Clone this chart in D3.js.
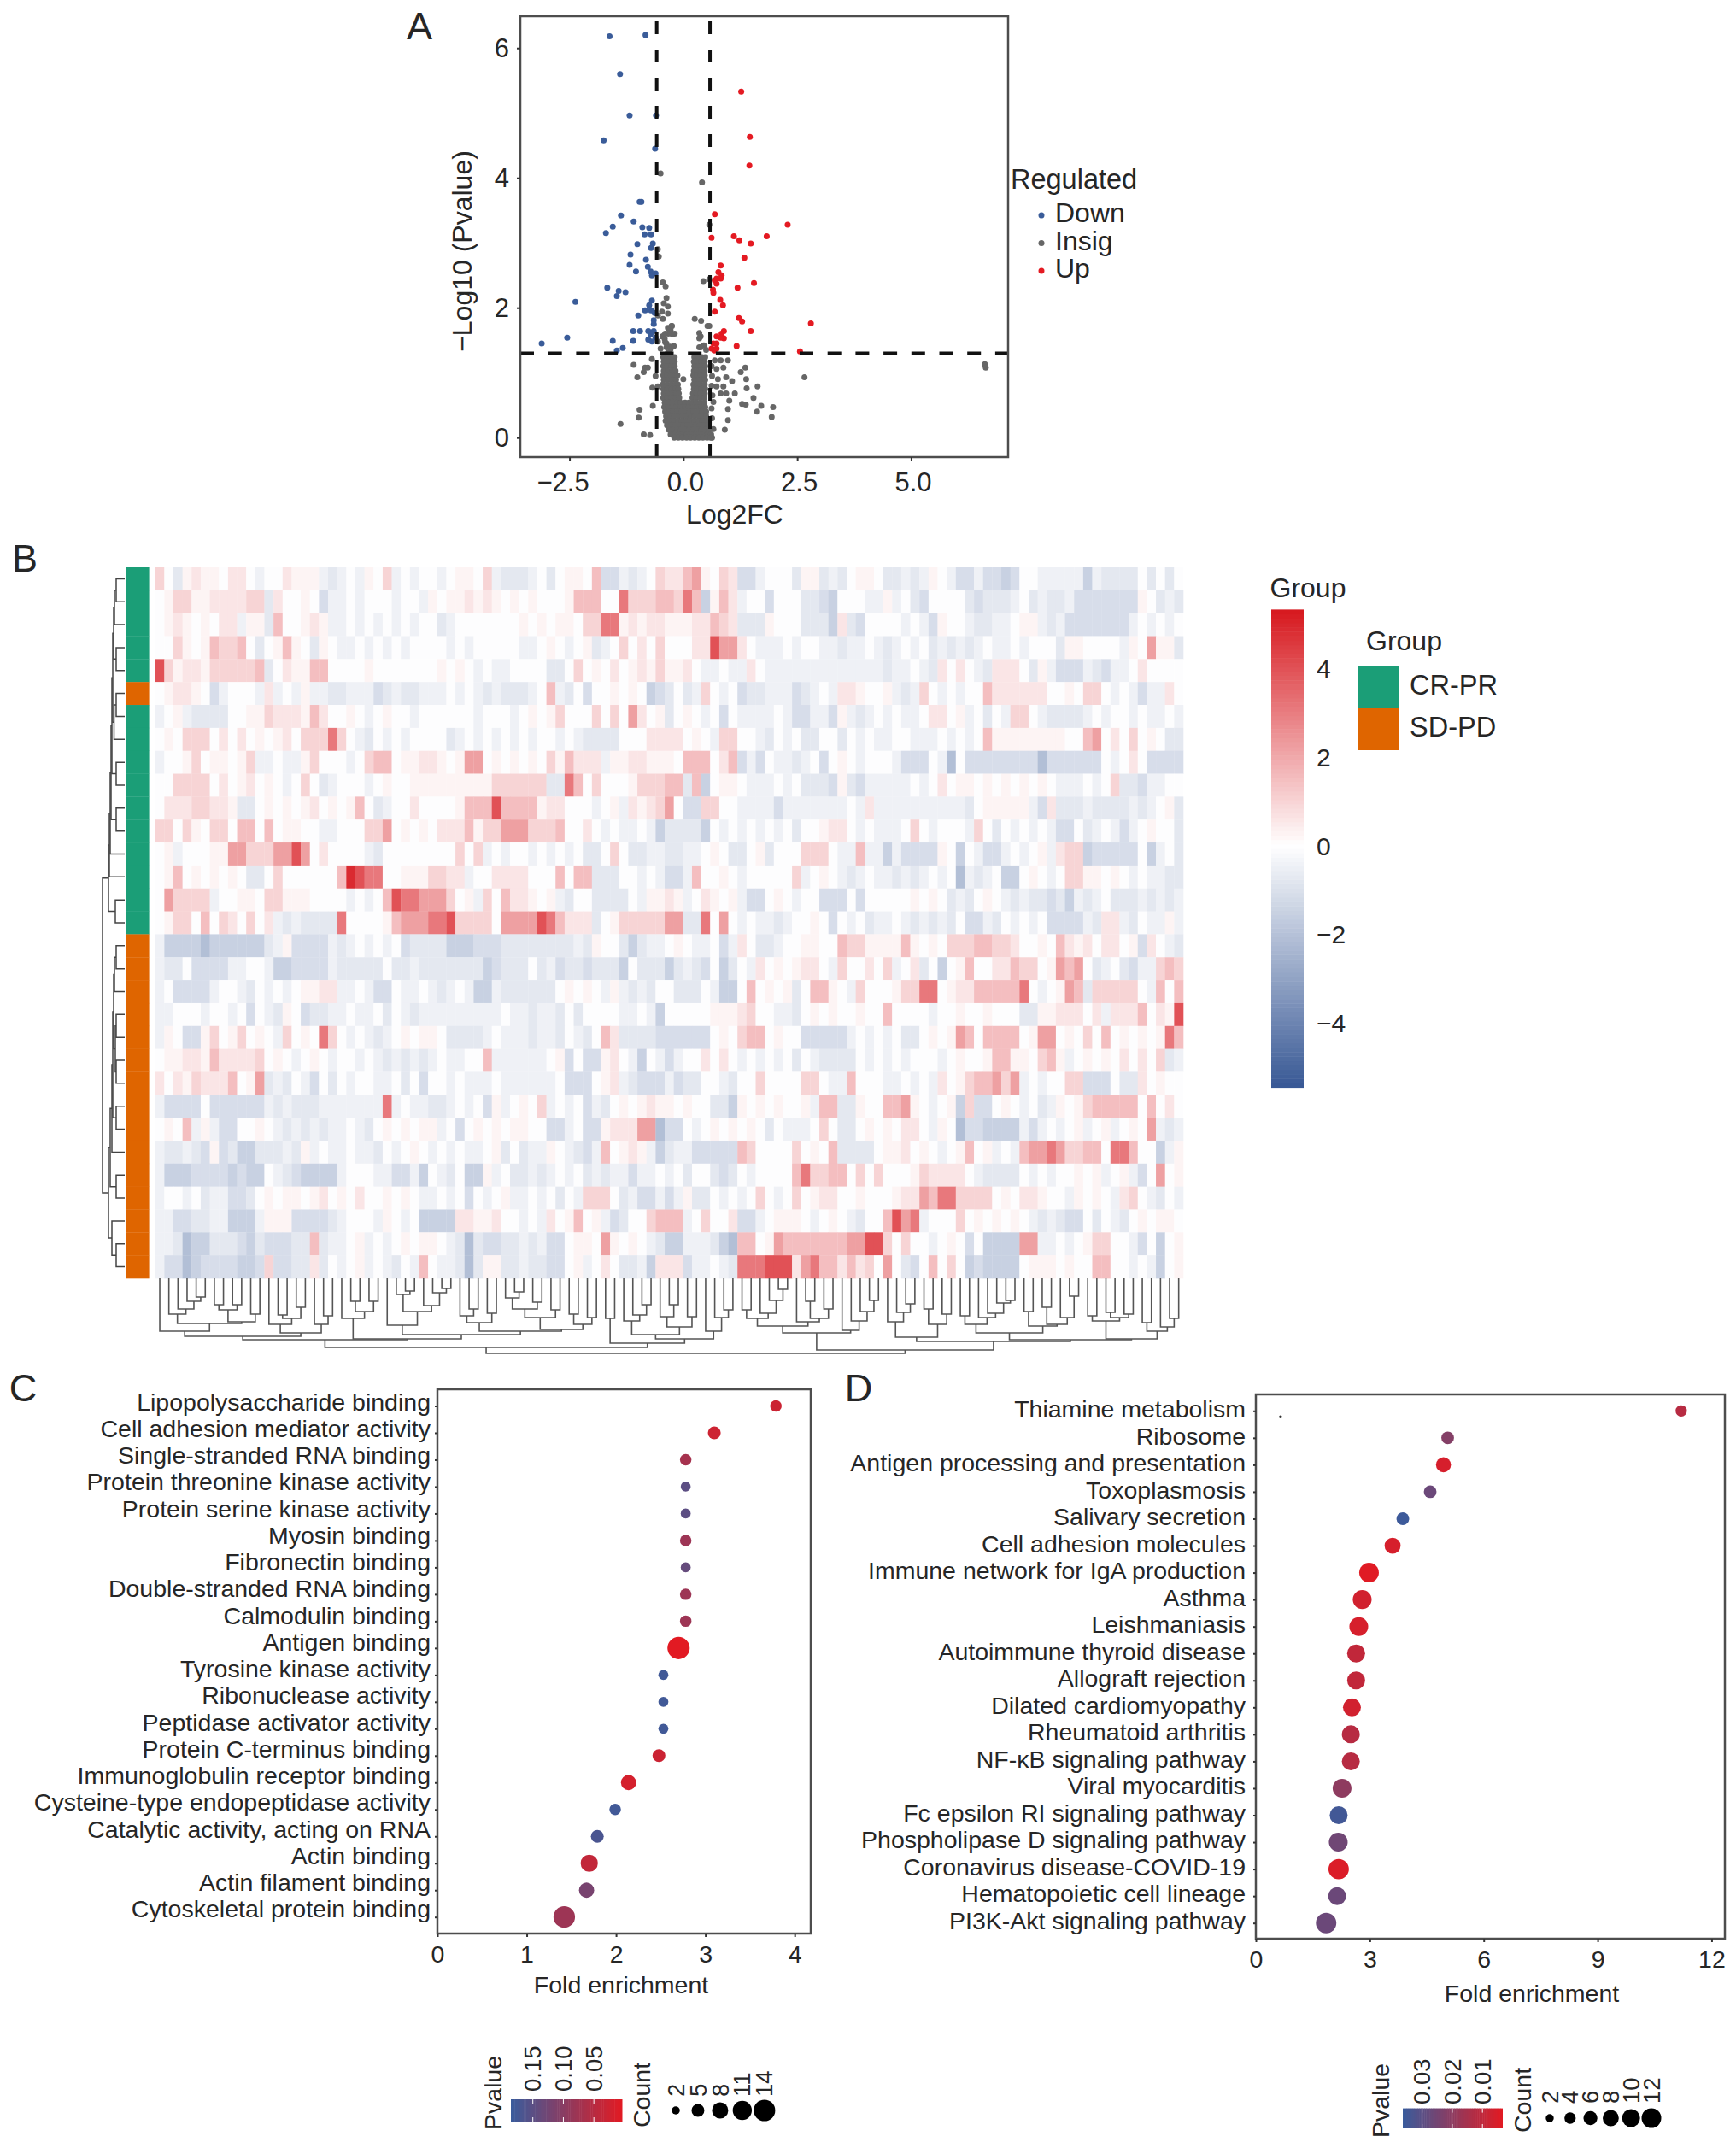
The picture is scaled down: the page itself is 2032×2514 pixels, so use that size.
<!DOCTYPE html>
<html>
<head>
<meta charset="utf-8">
<script src="https://cdn.jsdelivr.net/npm/d3@7"></script>
<style>
  body { margin: 0; background: #fff; }
  text { font-family: "Liberation Sans", Arial, sans-serif; fill: #262626; }
</style>
</head>
<body>
<div id="chart"></div>
<script>
// ---- panel A: volcano values, [log2FC, -log10 p]
const downPoints = [[-1.62,6.18],[-.83,6.2],[-1.39,5.6],[-1.18,4.96],[-.6,4.96],[-1.75,4.58],[-.62,4.45],[-.96,3.63],[-.92,3.63],[-1.37,3.42],
  [-1.55,3.25],[-1.7,3.15],[-1.09,3.33],[-.9,3.24],[-.75,3.23],[-.85,3.13],[-.71,3.13],[-1.01,2.98],[-.67,2.99],[-.71,2.92],
  [-1.16,2.82],[-.82,2.74],[-1.18,2.66],[-1.04,2.56],[-.78,2.63],[-.72,2.56],[-.61,2.53],[-.69,2.5],[-1.67,2.31],[-1.42,2.26],
  [-1.27,2.24],[-1.46,2.18],[-.69,2.11],[-.75,2.04],[-.84,1.96],[-.71,1.96],[-.99,1.88],[-.63,1.92],[-.65,1.81],[-.65,1.75],
  [-1.1,1.64],[-.95,1.64],[-.77,1.64],[-.65,1.64],[-.72,1.59],[-2.37,2.09],[-2.55,1.54],[-3.11,1.45],[-1.55,1.49],[-1.1,1.49],
  [-.77,1.51],[-1.33,1.38],[-1.46,1.34],[-.69,1.48],[-.61,1.54]];
const upPoints = [[1.27,5.33],[1.46,4.63],[1.45,4.19],[.69,3.44],[2.29,3.28],[.62,3.08],[1.11,3.1],[1.23,3.04],[1.48,2.99],[1.83,3.1],
  [1.34,2.77],[.82,2.65],[.77,2.55],[.84,2.5],[.73,2.45],[.69,2.42],[.82,2.45],[.73,2.37],[1.55,2.38],[1.19,2.31],
  [.65,2.28],[.66,2.23],[.81,2.12],[.87,2.04],[.69,1.94],[1.22,1.84],[1.29,1.79],[2.8,1.76],[.89,1.64],[.84,1.6],
  [1.48,1.64],[.73,1.56],[.89,1.53],[.66,1.45],[.73,1.45],[1.17,1.41],[.82,1.54],[.62,1.37],[.73,1.37],[2.56,1.33],[.68,1.34]];
const insigPoints = [[-.5,4.07],[.41,3.93],[.57,3.28],[-.56,2.9],[-.54,2.79],[.44,2.41],[.57,2.44],[-.45,2.39],[-.39,2.33],[-.37,2.15],
  [-.43,2.07],[-.34,2.02],[-.47,1.94],[-.34,1.91],[-.45,1.83],[-.56,1.88],[.25,1.83],[.39,1.8],[-.26,1.72],[-.34,1.69],
  [.57,1.72],[.35,1.61],[-.24,1.59],[-.45,1.56],[.35,1.53],[-.56,1.48],[-.37,1.45],[-.29,1.4],[-.5,1.37],[.35,1.39],
  [-.34,1.31],[-.28,1.65],[-.41,1.52],[-.33,1.6],[.5,1.35],[.45,1.42],
  [-.46,1.56],[-.4,1.47],[-.37,1.39],[-.28,1.36],[-.21,1.41],[-.4,1.6],[-.31,1.67],[-.19,1.6],[-.25,1.72],[.38,1.56],[.38,1.39],[.53,1.72],
  [6.62,1.13],[6.64,1.08],[2.66,.93],[1.97,.47],[1.94,.32],[1.71,.49],[1.62,.4],[1.63,.79],[1.54,.61],[1.37,.51],
  [1.29,.52],[1.36,1.08],[1.38,.9],[1.26,1.01],[1.39,.76],
  [.69,1.19],[.82,1.19],[.98,1.19],[.73,1.06],[.88,1.08],[.94,.93],[.76,.9],[1.07,.87],[.73,.79],[.88,.79],
  [.82,.68],[.94,.68],[1.13,.68],[1.01,.57],[.98,.44],[.98,.27],[.91,.12],[.66,.13],[.63,0],
  [.62,1.1],[.63,.95],[.62,.8],[.64,.65],[.66,.55],[.62,.45],[.63,.3],
  [-1.38,.21],[-.96,.43],[-.98,.31],[-.87,.05],[-.73,.04],[-1.09,1.12],[-.84,1.08],[-.78,1.08],[-.87,1.01],[-.69,1.21],
  [-1.01,.93],[-.61,.95],[-.68,.77],[-.67,.49],[-.56,.79],[0,.9]];
// dense part of the cloud, one row per -log10 p level
const insigRows = [[1.24,[-.44,-.35,-.27,-.19,.24,.33,.41,.48]],[1.17,[-.43,-.34,-.25,-.19,.23,.31,.39,.47]],
  [1.1,[-.44,-.36,-.27,-.19,.24,.32,.4,.48]],[1.03,[-.43,-.34,-.25,-.17,.23,.31,.39,.47]],
  [.96,[-.44,-.36,-.27,-.18,-.13,.22,.3,.38,.47]],[.89,[-.43,-.34,-.25,-.16,.24,.32,.4,.48]],
  [.82,[-.45,-.36,-.27,-.18,-.12,.22,.3,.38,.47]],[.75,[-.44,-.35,-.26,-.17,-.11,.23,.31,.39,.48]],
  [.68,[-.43,-.34,-.25,-.16,-.1,.21,.29,.38,.47]],[.61,[-.44,-.35,-.26,-.17,-.09,.2,.28,.37,.46]],
  [.54,[-.41,-.32,-.23,-.14,-.06,.04,.12,.2,.28,.37,.46]],[.47,[-.42,-.33,-.24,-.15,-.06,.03,.12,.21,.3,.39,.48]],
  [.4,[-.4,-.31,-.22,-.13,-.04,.05,.14,.23,.32,.41,.5]],[.33,[-.38,-.29,-.2,-.11,-.02,.07,.16,.25,.34,.43,.5]],
  [.26,[-.39,-.3,-.21,-.12,-.03,.06,.15,.24,.33,.42,.51]],[.19,[-.36,-.27,-.18,-.09,0,.09,.18,.27,.36,.45,.54]],
  [.12,[-.32,-.23,-.14,-.05,.04,.13,.22,.31,.4,.49,.56]],[.05,[-.28,-.19,-.1,-.01,.08,.17,.26,.35,.44,.53,.61]],
  [0,[-.2,-.11,-.02,.07,.16,.25,.34,.43,.52,.6]]];
const regulatedNames = ["Down", "Insig", "Up"];
const xTicksA = [-2.5, 0, 2.5, 5];
const yTicksA = [0, 2, 4, 6];

// ---- panel B: heatmap, one string per row, one character per column (spaces are only for reading)
const heatCodes  = ["d","c","b","a","-",".","+","1","2","3","4","5","6","7"];
const heatLevels = [-2.1,-1.5,-1.1,-.75,-.45,-.05,.25,.6,1,1.5,2.2,3.1,4,4.9];
const heatRows = [
"2.a+1++.11 .-..1+++-a -.-+.2-.-. .-.++.2-aa a-.a.++.3b b-a-.21134 +.21bb-... a++a-a.++. aa-a-+.-bb -bbcb..--- --c-aaaa.a .a.",
".+22++1111 22a1..+.b- -.-...-..- +.++1+1+.+ .+...+333. .522233253 c+31-..b.. .aabc...-- +-.ab....a baaa-.a-aa -bbbbbbb+. a-a",
".+1+.+.11- ++a3..+1+- -.-.-.-.-. .a-....... +.+.++.225 5+1+11+++1 1321aaa+.. .aaac1ab.. ..-.-b+..- aa--.++-a- bbbbbbb-.- .-.",
"..2+.+3223 .a.+3+.a+. --.-.-.-.. ..-.-..... --.+.-.+a- .2.1.2...1 16441.---. -..--a--.- a-.-.a-a-a -.--.-...a ++....-+.4 ++a",
"62+11+2222 23a.1++33. ...+...... .+.+.-.--. ...aa.2.+. 1.+1+2++1. --.--1.--- ---------- a--.-a1.1. -a111.a+-b bb-ab--.1. ...",
".+11+.b-.. .-1-.-+--a a---ba-aa- --.-.-a-aa a-.3-a.b.. +.+.cba.a- 2.-.baa--- ba-.-11+.. +-a-2.-.-. .3111111.. +.22.-.-b- -1.",
"-.+-aaaa.. ++2111+31. .+.-.+..-. .....-...- .+.+2...2. 2.41.+a.+. -.b.----.- bb--b+-a-. -.--.11.+- .a.-22.-aa aa-.-..-.- -.-",
".+.222.1.1 .+.+1.2225 2.-a.-.-.. ..a-.-.-.- .-..-.-aaa a...1111.+ .-22..-a.- .aa..a.-.- -..---.-.- .3++++++++ ..34.1.2.+ .aa",
"-..+2.++.+ 2--.--+2.. .-.233.++1 1+.+44.+.+ .+.2+3111- ++11+++.33 3.13b-b.-- a-.b.+.-.. .-bbb.-d.b bbbbbbbdbb bbbb.-.1.b bbb",
"..2222.1.+ 1.+.-.2.a- ...-.+..++ +++++++222 222aa53.2. ..+22233a3 c.++.---.- .aaab+ab-- ---.-.1.++ .+.+.+.+.- --.-.2aab- -..",
".1112211+a a.+.+.+1.+ .+3.a-..1. ...+333633 33+11...-. +-1+124.bb 22..----b- ------.-1- ---------a .+++++-b1a aa-aaaa-a- .+a",
"22.2+.22.3 3.3.++..-- ...224.+.+ .1113+2244 42223..1.- .--.-caaaa c.-.-.-.-. a..+11.-.- --.2.-...- 2.a.-.-.-b b.a-.-b-.+ ..a",
".+-...++44 2224464.1. ...-a..... ...2.2-.-. .-.-.-.aa. 2.aa--aa-- .+.aa.+a.. .222.--3-- c-bbbb+.c. -bb-.-.+-1 22cbbbbb.c -.a",
".+3.+.+.+. aa.2...... 37655..+++ 2211-..111 1...3.33aa a..-.-bb-3 ..+.-..... 2-.+.-a-.- -a-a-.-.d- a-.cc.+.-. 22++.+.-.- -aa",
".42222-..+ +.22+++... .-.-.36554 442.+-2.31 1+.+-a..aa aa.-++1+-. 1+.+-bb.+. -..bbb.b.. ...+.+.a-a .+.-a-aaba c-a-.aaa-a -a-",
".+22.3.21. 2.1-a-aaaa 5....+3444 5562222.44 44653111a. +2222244aa 5.4.-.--a- ..+.b.-.a- -.-a-a-a.b b-a.-.-.bb bb-a11-a.- -+-",
"-ccccdcccc cca-+bbbb- a-.-.-.baa aacccbbbaa aaaaaa-a+. .aca--.+.- -.b-1.aa-. .++..322++ ++3+.+.222 33221..+.3 1+1.11.+b1 .-a",
"-aa.bbbb-- ..-ccbbbb- aaaaa.aa-a aaaaaacbaa a.a-baabaa ac.aaaca-a b.ca.-1.+. +11.-2..1. 2-.1a.c.+3 ..11322.+4 34.a-.ab-- 232",
"-.bbbb-..- a.-.-.++11 --.-bb.--. -a-.-cc-aa aaaa.+.+.- +-a-a..aaa .-cc.3.+.+ a.33+.-2.. .+2255.+11 333335.-.+ 43a22222.- 3.3",
"--...-..-. b.-a+.baa- -.--.a.-a- --------.- -a--a.a... .--.-c.... .+++12..-- a.+.+..+.. 3....-..+. .+...aa++1 11.1-1113. 1+6",
"-+.bb+2.+2 .+.-2.+.52 .-.-a-.+.+ +.aaaa-.-- -a--a.-a.3 1aaaabbbbb b.+.233.+. .bbbbb-.-. -.aa.+.+43 .3333.+44. +.2.3.+.+. +53",
".++11+3111 12.+.-.+.- ..-.-a-a-a -.--..3--- ---.+b.bb+ 1.-c.-b-.. 1.1.-.-.-. a.-aaaa.-. -.-...-.+. .+33++.23+ -.+.+.1.1. 2a-",
"1.1+21113. +4a-a.-b.a .-..--.a.b ..-.---.-- ----.bbb.+ 1-abbb-baa ..-a..2... .22.--3... --.-.-1.+2 33424-.-.. 22bbb.aa1. +..",
"-bbbb.bbbb bb-a-aaa-- -----5-.-- aa-.-.b+-. +.2-.-.b-a .+.+1++.+. .aac+.+.+. .+-33aa+.. 334+.-.+c2 bb.+.-.a-+ .+233333.3 .1.",
".+.3-+-bb. .+.-a-a-a- -.-a.+.+.+ +-.b.+.+.+ +..bb-.bb+ 11144dbb.- .+.+.+.a.- --.2.aa.+. +.11.-+.db bcccc-b-.- .+-.+-.+.4 -a-",
"-aa-ab+bac caaa-a+-.- -.--a.-.+. -.-.--.+a. a--+.-ab-3 .+1+-ca--b bbbb32.... 2.+.3aaaa. ++1.+.-.+3 .+-.-34454 2233.553.. c-+",
"-cccbbbbcb cc.-abcccc -...--bb-c .-a.cc+-.a a-a-.-.a-a --b--.-.a. .aba.-.... 352233.2.2 ...+21111. -aaaa.-.-. .+.+-.+-b. 4.+",
"-..-.a--bb a.+.++.+1. +.1..+.+.- -.-.b.-.+- -.-.a.-222 .a-bb-b-+a a.-.-.2.-. 2.+11..+.. .+11435522 22.+.11+.. -+.+.-12.- a.-",
"--bbaa--cc c-+++bbbba -...-+.-.c ccc11++1.. -.-1.+3.+- ba..2333-. 2..1bb-.++ +.-.+.-a.. 3645-...2. +.+.+.-a-a bb.a.-a.+. ++.",
"--adccaaab cabbbaa3a- -.+-.-.+.+ +.-adabbaa -a-bb.++.4 +.+.-acc-- -acd33.+43 3333334466 2.2..-.+.b .cccc44--. -.+22..-b. c.+",
"-bbdcbbbbc cb2bbaa1a. -.+-.-a.-3 .--ada++aa -aabb.+-.1 .aa-c111b- -.-a555666 145331312. 4.ab.3.2.c bcccc.+++. +..33..-.- c.+"
];
// group of each row: 0 CR-PR, 1 SD-PD
const rowGroups = [0,0,0,0,0,1,0,0,0,0,0,0,0,0,0,0,1,1,1,1,1,1,1,1,1,1,1,1,1,1,1];
const groupNames = ["CR-PR", "SD-PD"];
const groupColors = ["#1b9e77", "#df6500"];
const heatTicks = [-4, -2, 0, 2, 4];

// row dendrogram, nodes are [height, left, right], leaves are row numbers
const rowTop = [14, [13, [12, [10,0,1], 2], [10,3,4]], [12.5, [10,5,6], 7]];
const rowMid = [18, [17, [16, [15, rowTop, [10,8,9]], [10,10,11]], 12], 13];
const rowLow = [17, [15, [14, [13, [12, [10,16,17], 18], [11, [10,19,20], [10,21,22]]], [10,23,24]], 25], [10,26,27]];
const rowTree = [26, [19, rowMid, [11,14,15]], [19, rowLow, [15, 28, [10,29,30]]]];
// column dendrogram, same shape, leaves are column numbers
const c1 = [62, 0, [53, [42,1,[36,2,[27,3,[22,4,5]]]], [51, [37,[31,6,7],[31,8,9]], [42,10,11]]]];
const c2 = [64, [54,12,[47,[43,13,14],[34,15,16]]], [54,17,[44,18,19]]];
const c3 = [47, 20, [39,[27,21,22],[27,23,24]]];
const c4 = [55, 25, [39,[19,26,[15,27,28]],[32,29,[17,30,[12,31,32]]]]];
const c5 = [52, [44,33,[36,34,35]], [41,36,37]];
const c6 = [60, [46,[36,[23,38,[16,39,40]],[28,41,42]],[37,43,44]], [54,[42,45,46],[46,47,48]]];
const c7 = [71, [66, [50,51,[43,52,[31,53,54]]], [57,[45,55,[31,56,57]],[45,58,59]]], [62,60,[46,61,[37,62,63]]]];
const c8 = [64, [56,[47,[37,64,65],[41,66,[26,67,[13,68,69]]]],[51,70,[47,[27,71,72],[36,73,74]]]], [61,75,[50,76,[39,77,[26,78,79]]]]];
const c9 = [69, [51,80,[40,81,[30,82,83]]], [54,[36,84,85],[42,86,87]]];
const c10 = [72,
  [64, [54,[44,88,89],[46,90,[41,91,[29,92,[26,93,94]]]]], [56,[39,95,96],[54,[34,97,98],[46,99,[21,100,101]]]]],
  [71, [50,[44,102,103],[46,[40,104,105],[42,106,107]]], [62,[52,108,109],[57,110,[47,111,112]]]]];
const colTree = [88,
  [81, [72, [68,c1,c2], [71,c3,[66,c4,[62,c5,c6]]]], [76,[47,49,50],c7]],
  [84, c8, [74,c9,c10]]
];

// ---- panel C
const termsC = ["Lipopolysaccharide binding","Cell adhesion mediator activity","Single-stranded RNA binding","Protein threonine kinase activity","Protein serine kinase activity","Myosin binding","Fibronectin binding","Double-stranded RNA binding","Calmodulin binding","Antigen binding","Tyrosine kinase activity","Ribonuclease activity","Peptidase activator activity","Protein C-terminus binding","Immunoglobulin receptor binding","Cysteine-type endopeptidase activity","Catalytic activity, acting on RNA","Actin binding","Actin filament binding","Cytoskeletal protein binding"];
const foldC = [3.79,3.1,2.78,2.78,2.78,2.78,2.78,2.78,2.78,2.7,2.53,2.53,2.53,2.48,2.14,1.99,1.79,1.7,1.67,1.42];
const countC = [4,5,4,3,3,4,3,4,4,15,3,3,3,5,7,4,5,9,7,14];
const pvalC = [.03,.028,.07,.15,.15,.08,.14,.08,.08,.005,.18,.18,.18,.03,.02,.18,.17,.04,.12,.08];
const pTicksC = [.15, .1, .05];
const countTicksC = [2, 5, 8, 11, 14];
const xTicksC = [0, 1, 2, 3, 4];

// ---- panel D
const termsD = ["Thiamine metabolism","Ribosome","Antigen processing and presentation","Toxoplasmosis","Salivary secretion","Cell adhesion molecules","Immune network for IgA production","Asthma","Leishmaniasis","Autoimmune thyroid disease","Allograft rejection","Dilated cardiomyopathy","Rheumatoid arthritis","NF-\u03baB signaling pathway","Viral myocarditis","Fc epsilon RI signaling pathway","Phospholipase D signaling pathway","Coronavirus disease-COVID-19","Hematopoietic cell lineage","PI3K-Akt signaling pathway"];
const foldD = [11.2,5.05,4.94,4.59,3.87,3.6,2.98,2.8,2.71,2.64,2.64,2.53,2.5,2.5,2.27,2.18,2.17,2.18,2.14,1.85];
const countD = [4,5,7,5,5,8,12,11,11,10,10,10,10,10,11,10,11,13,10,13];
const pvalD = [.012,.022,.006,.027,.036,.006,.004,.007,.006,.01,.01,.007,.012,.012,.02,.035,.026,.005,.027,.027];
const pTicksD = [.03, .02, .01];
const countTicksD = [2, 4, 6, 8, 10, 12];
const xTicksD = [0, 3, 6, 9, 12];
const strayFoldD = [.65];

const svg = d3.select("#chart").append("svg")
  .attr("width", 2032).attr("height", 2514)
  .style("display", "block");

const frameColor = "#4d4d4d";

function addText(x, y, str, size, anchor) {
  return svg.append("text").attr("x", x).attr("y", y)
    .attr("font-size", size).attr("text-anchor", anchor || "start")
    .attr("dy", "0.35em").text(str);
}
function addRotated(x, y, str, size) {
  // reads upward, starting at y
  return svg.append("text").attr("transform", "translate(" + x + "," + y + ") rotate(-90)")
    .attr("font-size", size).attr("dy", "0.35em").text(str);
}
function styleAxis(g, size, color) {
  g.select(".domain").remove();
  g.selectAll("line").attr("stroke", color || "#333").attr("stroke-width", 2);
  g.selectAll("text").attr("font-size", size).attr("fill", "#262626");
  g.attr("font-family", null);
}

// panel letters
addText(491, 30, "A", 45, "middle");
addText(29, 653, "B", 45, "middle");
addText(27, 1624, "C", 45, "middle");
addText(1005, 1624, "D", 45, "middle");

// ---- A
{
  const x = d3.scaleLinear().domain([-3.58, 7.13]).range([609, 1180]);
  const y = d3.scaleLinear().domain([-0.3, 6.49]).range([535, 19]);
  const colors = { Down: "#3a5c99", Insig: "#666666", Up: "#e41a22" };

  const g = svg.append("g");
  const allInsig = insigPoints.concat(insigRows.flatMap(r => r[1].map(v => [v, r[0]])));
  const layers = [["Insig", allInsig], ["Down", downPoints], ["Up", upPoints]];
  layers.forEach(l => {
    g.append("g").selectAll("circle").data(l[1]).enter().append("circle")
      .attr("cx", d => x(d[0])).attr("cy", d => y(d[1]))
      .attr("r", 3.5).attr("fill", colors[l[0]]);
  });

  // thresholds
  [-0.585, 0.585].forEach(v => {
    g.append("line").attr("x1", x(v)).attr("x2", x(v)).attr("y1", y.range()[0]).attr("y2", y.range()[1])
      .attr("stroke", "#111").attr("stroke-width", 4).attr("stroke-dasharray", "15 18");
  });
  g.append("line").attr("x1", 609).attr("x2", 1180).attr("y1", y(1.3)).attr("y2", y(1.3))
    .attr("stroke", "#111").attr("stroke-width", 4).attr("stroke-dasharray", "16 16.7");

  svg.append("rect").attr("x", 609).attr("y", 19).attr("width", 571).attr("height", 516)
    .attr("fill", "none").attr("stroke", frameColor).attr("stroke-width", 2.5);

  svg.append("g").attr("transform", "translate(0,535)")
    .call(d3.axisBottom(x).tickValues(xTicksA).tickFormat(d3.format(".1f")).tickSize(5).tickPadding(13))
    .call(styleAxis, 31)
    .selectAll("text").attr("dx", d => d < 0 ? -8 : 2);
  svg.append("g").attr("transform", "translate(609,0)")
    .call(d3.axisLeft(y).tickValues(yTicksA).tickFormat(d3.format("d")).tickSize(4).tickPadding(9))
    .call(styleAxis, 31);

  addText(860, 602, "Log2FC", 32, "middle");
  svg.append("text").attr("transform", "translate(541,294) rotate(-90)")
    .attr("font-size", 32).attr("text-anchor", "middle").attr("dy", "0.35em").text("\u2212Log10 (Pvalue)");

  addText(1183, 210, "Regulated", 32.5);
  const legY = d3.scalePoint().domain(regulatedNames).range([249, 314]);
  regulatedNames.forEach(n => {
    svg.append("circle").attr("cx", 1219).attr("cy", legY(n) + 3).attr("r", 3.5).attr("fill", colors[n]);
    addText(1235, legY(n), n, 32);
  });
}

// ---- B
{
  const decoded = heatRows.map(r => r.replace(/ /g, "").split("").map(c => heatLevels[heatCodes.indexOf(c)]));
  const nCols = decoded[0].length;
  const x = d3.scaleBand().domain(d3.range(nCols)).range([181.7, 1385]);
  const y = d3.scaleBand().domain(d3.range(heatRows.length)).range([664, 1496]);
  const color = d3.scaleLinear().domain([-5.4, 0, 5.3]).range(["#3a5a96", "#ffffff", "#d7191f"]);

  svg.append("g").selectAll("g").data(decoded).enter().append("g")
    .attr("transform", (d, i) => "translate(0," + y(i) + ")")
    .selectAll("rect").data(d => d).enter().append("rect")
    .attr("x", (d, j) => x(j)).attr("width", x.bandwidth() + 0.3).attr("height", y.bandwidth() + 0.3)
    .attr("fill", d => color(d));

  // group bar
  svg.append("g").selectAll("rect").data(rowGroups).enter().append("rect")
    .attr("x", 148).attr("width", 26.6)
    .attr("y", (d, i) => y(i)).attr("height", y.bandwidth() + 0.3)
    .attr("fill", d => groupColors[d]);

  function treePaths(root, pos, project) {
    const paths = [];
    (function walk(n) {
      if (typeof n === "number") return { c: pos(n), h: 0 };
      const a = walk(n[1]), b = walk(n[2]);
      const pts = [[a.c, a.h], [a.c, n[0]], [b.c, n[0]], [b.c, b.h]].map(project);
      paths.push("M" + pts.join("L"));
      return { c: (a.c + b.c) / 2, h: n[0] };
    })(root);
    return paths;
  }

  const rowH = d3.scaleLinear().domain([0, 26]).range([146, 120]);
  const colH = d3.scaleLinear().domain([0, 88]).range([1496, 1584]);

  svg.append("g").selectAll("path")
    .data(treePaths(rowTree, i => y(i) + y.bandwidth() / 2, p => [rowH(p[1]), p[0]]))
    .enter().append("path").attr("d", d => d)
    .attr("fill", "none").attr("stroke", "#444").attr("stroke-width", 1.5);
  svg.append("g").selectAll("path")
    .data(treePaths(colTree, i => x(i) + x.bandwidth() / 2, p => [p[0], colH(p[1])]))
    .enter().append("path").attr("d", d => d)
    .attr("fill", "none").attr("stroke", "#555").attr("stroke-width", 1.6);

  // colour bar
  addText(1486.5, 688, "Group", 32);
  const barY = d3.scaleLinear().domain([-5.42, 5.31]).range([1272.6, 717]);
  const steps = d3.range(-5.42, 5.31, 0.1);
  svg.append("g").selectAll("rect").data(steps).enter().append("rect")
    .attr("x", 1488).attr("width", 38)
    .attr("y", d => barY(d + 0.1)).attr("height", d => barY(d) - barY(d + 0.1) + 0.5)
    .attr("fill", d => color(d));
  svg.append("g").attr("transform", "translate(1526,-1.5)")
    .call(d3.axisRight(barY).tickValues(heatTicks).tickSize(0).tickPadding(15))
    .call(styleAxis, 30);

  // group legend
  addText(1599, 750, "Group", 32);
  const legY = d3.scaleBand().domain(groupNames).range([780, 878]);
  groupNames.forEach((n, i) => {
    svg.append("rect").attr("x", 1589).attr("y", legY(n)).attr("width", 49).attr("height", legY.bandwidth())
      .attr("fill", groupColors[i]);
    addText(1650, legY(n) + legY.bandwidth() / 2 - 3, n, 32.5);
  });
}

// ---- C and D share the dot plot code
function dotPanel(o) {
  const x = d3.scaleLinear().domain([0, o.xMax]).range([o.left, o.right]);
  const y = d3.scalePoint().domain(o.terms).range(o.rowRange);
  const r = d3.scaleSqrt().domain([0, o.countMax]).range([0, o.rMax]);
  const color = d3.scaleLinear().domain(o.pDomain).range(["#3b5b9b", "#e31a22"]);

  svg.append("g").selectAll("circle").data(o.terms).enter().append("circle")
    .attr("cx", (d, i) => x(o.fold[i])).attr("cy", d => y(d))
    .attr("r", (d, i) => r(o.count[i])).attr("fill", (d, i) => color(o.pval[i]));

  svg.append("rect").attr("x", o.left).attr("y", o.top)
    .attr("width", o.right - o.left).attr("height", o.bottom - o.top)
    .attr("fill", "none").attr("stroke", frameColor).attr("stroke-width", 2.5);

  svg.append("g").attr("transform", "translate(0," + o.bottom + ")")
    .call(d3.axisBottom(x).tickValues(o.xTicks).tickFormat(d3.format("d")).tickSize(4).tickPadding(10))
    .call(styleAxis, 28.5);
  svg.append("g").attr("transform", "translate(" + o.left + ",0)")
    .call(d3.axisLeft(y).tickSize(3).tickPadding(o.labelPad))
    .call(styleAxis, 28.5)
    .selectAll("text").attr("dy", "0.22em").attr("y", (d, i) => o.labelShift[0] + i * o.labelShift[1]);

  addText(o.titleX, o.titleY, "Fold enrichment", 28.5, "middle");

  // colour legend
  const barX = d3.scaleLinear().domain(o.pDomain).range(o.barRange);
  addRotated(o.pTitleX, o.pTitleY, "Pvalue", 28.5);
  const steps = d3.range(0, 60).map(i => o.pDomain[0] + (o.pDomain[1] - o.pDomain[0]) * i / 60);
  const stepW = (o.barRange[1] - o.barRange[0]) / 60;
  svg.append("g").selectAll("rect").data(steps).enter().append("rect")
    .attr("x", d => barX(d)).attr("y", o.barY).attr("width", stepW + 0.5).attr("height", o.barH)
    .attr("fill", d => color(d));
  o.pTicks.forEach(t => {
    svg.append("line").attr("x1", barX(t)).attr("x2", barX(t)).attr("y1", o.barY).attr("y2", o.barY + 5)
      .attr("stroke", "#fff").attr("stroke-width", 1);
    svg.append("line").attr("x1", barX(t)).attr("x2", barX(t)).attr("y1", o.barY + o.barH - 5).attr("y2", o.barY + o.barH)
      .attr("stroke", "#fff").attr("stroke-width", 1);
    addRotated(barX(t), o.pLabelY, d3.format(".2f")(t), 27.5);
  });

  // size legend
  addRotated(o.cTitleX, o.cTitleY, "Count", 28.5);
  const legX = d3.scalePoint().domain(o.countTicks).range(o.countRange);
  o.countTicks.forEach(t => {
    svg.append("circle").attr("cx", legX(t)).attr("cy", o.countY).attr("r", r(t)).attr("fill", "#000");
    addRotated(legX(t), o.cLabelY, t, 27.5);
  });
  return { x, y };
}

dotPanel({
  terms: termsC, fold: foldC, count: countC, pval: pvalC,
  xMax: 4.18, left: 512, right: 949, top: 1626, bottom: 2263, rowRange: [1645.5, 2243.7],
  countMax: 14, rMax: 12.6, pDomain: [.186, .004], xTicks: xTicksC, labelPad: 5, labelShift: [-1.5, -0.25],
  titleX: 727, titleY: 2323,
  pTitleX: 577, pTitleY: 2493, barRange: [598, 728], barY: 2457, barH: 26, pTicks: pTicksC, pLabelY: 2448,
  cTitleX: 751, cTitleY: 2490, countTicks: countTicksC, countRange: [791, 894.8], countY: 2470, cLabelY: 2454
});

const panelD = dotPanel({
  terms: termsD, fold: foldD, count: countD, pval: pvalD,
  xMax: 12.35, left: 1470, right: 2019, top: 1632, bottom: 2269, rowRange: [1651.3, 2250.7],
  countMax: 12, rMax: 11.5, pDomain: [.0364, .0034], xTicks: xTicksD, labelPad: 9, labelShift: [1, -0.05],
  titleX: 1793, titleY: 2333.5,
  pTitleX: 1616, pTitleY: 2502, barRange: [1642, 1758.5], barY: 2467.6, barH: 23.4, pTicks: pTicksD, pLabelY: 2463,
  cTitleX: 1782, cTitleY: 2496, countTicks: countTicksD, countRange: [1814, 1933], countY: 2479, cLabelY: 2462
});
// small stray mark inside panel D
svg.append("circle").attr("cx", panelD.x(strayFoldD[0])).attr("cy", panelD.y(termsD[0]) + 7)
  .attr("r", 1.8).attr("fill", "#333");
</script>
</body>
</html>
